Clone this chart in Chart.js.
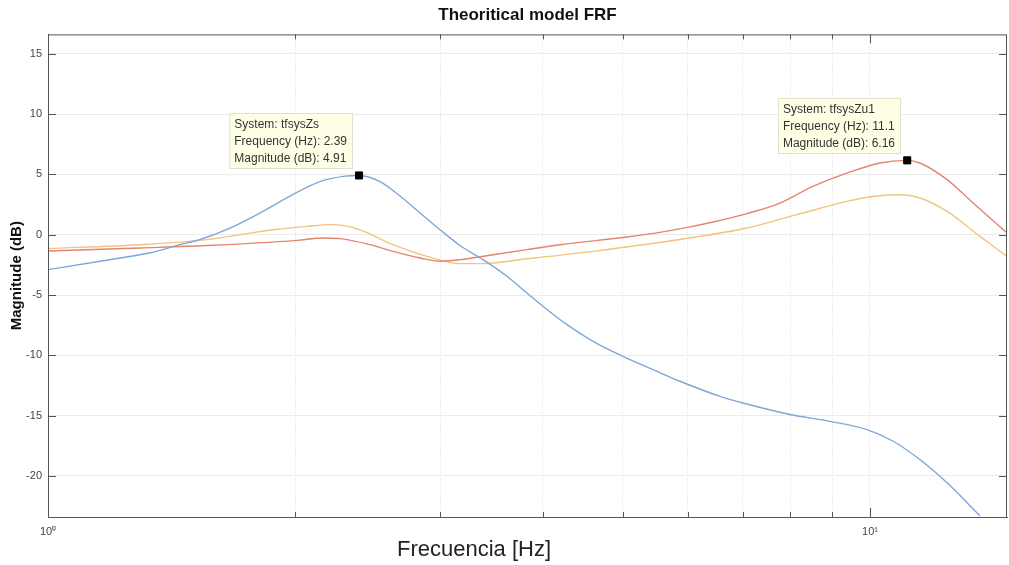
<!DOCTYPE html>
<html>
<head>
<meta charset="utf-8">
<script src="https://cdn.jsdelivr.net/npm/chart.js@4"></script>
<style>
  html, body { margin: 0; padding: 0; background: #fff; }
  #wrap { width: 1009px; height: 565px; }
</style>
</head>
<body>
<div id="wrap"><canvas id="frf"></canvas></div>
<script>
// values (frequency in Hz, magnitude in dB)
const freqZs = [1.000, 1.157, 1.331, 1.447, 1.531, 1.665, 1.811, 1.970, 2.142, 2.298, 2.39, 2.535, 2.681, 2.836, 2.999, 3.172, 3.382, 3.617, 3.825, 4.046, 4.279, 4.603, 5.006, 5.445, 5.873, 6.570, 7.006, 7.992, 8.940, 9.917, 10.66, 11.50, 12.41, 13.61];
const magZs = [-2.9, -2.2, -1.5, -0.83, -0.4, 0.55, 1.8, 3.2, 4.4, 4.85, 4.91, 4.4, 3.2, 1.8, 0.41, -0.9, -2.07, -3.45, -4.83, -6.2, -7.46, -8.84, -10.08, -11.18, -12.15, -13.4, -13.95, -14.9, -15.47, -16.16, -17.1, -18.64, -20.57, -23.3];

const freqZu1 = [1.000, 1.294, 1.561, 2.009, 2.160, 2.266, 2.465, 2.629, 2.836, 2.999, 3.172, 3.479, 3.825, 4.197, 5.064, 5.553, 6.039, 6.442, 7.085, 7.772, 8.524, 9.377, 10.28, 11.1, 11.5, 12.41, 13.35, 14.68];
const magZu1 = [-1.35, -1.1, -0.9, -0.47, -0.27, -0.33, -0.83, -1.38, -1.93, -2.2, -2.07, -1.66, -1.24, -0.83, -0.19, 0.19, 0.65, 1.05, 1.75, 2.62, 4.0, 5.1, 5.94, 6.16, 5.94, 4.56, 2.62, 0.14];

const freqZu2 = [1.000, 1.294, 1.561, 1.878, 2.066, 2.203, 2.285, 2.397, 2.629, 2.892, 3.172, 3.36, 3.825, 4.603, 5.873, 7.085, 8.150, 9.377, 10.08, 10.79, 11.5, 12.41, 13.61, 14.68];
const magZu2 = [-1.15, -0.83, -0.41, 0.41, 0.69, 0.83, 0.77, 0.4, -0.83, -1.8, -2.4, -2.4, -2.0, -1.38, -0.4, 0.55, 1.66, 2.76, 3.17, 3.31, 3.04, 1.93, -0.14, -1.8];

// data tips
const tipSystem = ['tfsysZs', 'tfsysZu1'];
const tipFreq = [2.39, 11.1];
const tipMag = [4.91, 6.16];

const yTicks = [-20, -15, -10, -5, 0, 5, 10, 15];
const xTicks = [1, 2, 3, 4, 5, 6, 7, 8, 9, 10];
const xLabels = { 1: '10\u2070', 10: '10\u00b9' };

const FONT = '"Liberation Sans", Arial, sans-serif';
const pts = (xs, ys) => xs.map((x, i) => ({ x: x, y: ys[i] }));

// frame + inward ticks like the MATLAB axes box
const boxPlugin = {
  id: 'box',
  afterDatasetsDraw(chart) {
    const { ctx, chartArea: a, scales: { x, y } } = chart;
    ctx.save();
    ctx.strokeStyle = '#555';
    ctx.lineWidth = 1;
    ctx.beginPath();
    yTicks.forEach(v => {
      const py = Math.round(y.getPixelForValue(v)) + 0.5;
      ctx.moveTo(a.left, py); ctx.lineTo(a.left + 8, py);
      ctx.moveTo(a.right, py); ctx.lineTo(a.right - 8, py);
    });
    xTicks.forEach(v => {
      const px = Math.round(x.getPixelForValue(v)) + 0.5;
      const len = (v === 1 || v === 10) ? 9 : 5;
      ctx.moveTo(px, a.bottom); ctx.lineTo(px, a.bottom - len);
      ctx.moveTo(px, a.top); ctx.lineTo(px, a.top + len);
    });
    ctx.stroke();
    ctx.strokeRect(a.left + 0.5, a.top + 0.5, a.right - a.left - 1, a.bottom - a.top);
    ctx.restore();
  }
};

// data tip boxes next to the black markers
const tipPlugin = {
  id: 'tips',
  afterDraw(chart) {
    const { ctx } = chart;
    const meta = chart.getDatasetMeta(3);
    ctx.save();
    ctx.font = '12px ' + FONT;
    meta.data.forEach((pt, i) => {
      const lines = [
        'System: ' + tipSystem[i],
        'Frequency (Hz): ' + tipFreq[i],
        'Magnitude (dB): ' + tipMag[i]
      ];
      const w = Math.max(...lines.map(l => ctx.measureText(l).width)) + 10;
      const h = 55;
      const rx = Math.round(pt.x) - 7, by = Math.round(pt.y) - 7;
      ctx.fillStyle = 'rgba(255,255,228,0.92)';
      ctx.fillRect(rx - w, by - h, w, h);
      ctx.strokeStyle = '#e0e0d0';
      ctx.lineWidth = 1;
      ctx.strokeRect(rx - w + 0.5, by - h + 0.5, w, h);
      ctx.fillStyle = '#333';
      ctx.textBaseline = 'middle';
      lines.forEach((l, k) => ctx.fillText(l, rx - w + 5, by - h + 12 + k * 17));
    });
    ctx.restore();
  }
};

const xTitlePlugin = {
  id: 'xTitle',
  afterDraw(chart) {
    const { ctx } = chart;
    ctx.save();
    ctx.font = '22px ' + FONT;
    ctx.fillStyle = '#222';
    ctx.textAlign = 'center';
    ctx.textBaseline = 'middle';
    ctx.fillText('Frecuencia [Hz]', 474, 550);
    ctx.restore();
  }
};

new Chart(document.getElementById('frf'), {
  type: 'line',
  data: {
    datasets: [
      { label: 'tfsysZs', data: pts(freqZs, magZs), borderColor: '#7ea7d8', borderWidth: 1.4 },
      { label: 'tfsysZu1', data: pts(freqZu1, magZu1), borderColor: '#e5846f', borderWidth: 1.4 },
      { label: 'tfsysZu2', data: pts(freqZu2, magZu2), borderColor: '#f3c47c', borderWidth: 1.4 },
      {
        label: 'datatips', data: pts(tipFreq, tipMag), showLine: false, order: -1,
        pointStyle: 'rect', pointRadius: 5, pointBorderWidth: 1,
        pointBackgroundColor: '#000', pointBorderColor: '#000'
      }
    ]
  },
  options: {
    responsive: true,
    maintainAspectRatio: false,
    animation: false,
    events: [],
    layout: { autoPadding: false, padding: { left: 0, right: 2, top: 0, bottom: 0 } },
    elements: {
      point: { radius: 0 },
      line: { cubicInterpolationMode: 'monotone', fill: false }
    },
    plugins: {
      legend: { display: false },
      tooltip: { enabled: false },
      title: {
        display: true,
        fullSize: false,
        text: 'Theoritical model FRF',
        color: '#111',
        font: { family: FONT, size: 17, weight: 'bold' },
        padding: { top: 5, bottom: 9 }
      }
    },
    scales: {
      x: {
        type: 'logarithmic',
        min: 1,
        max: 14.68,
        afterBuildTicks: s => { s.ticks = xTicks.map(v => ({ value: v })); },
        afterFit: s => { s.height = 48; s.paddingLeft = 0; s.paddingRight = 0; },
        grid: { color: '#dcdcdc', drawTicks: false, lineWidth: 1 },
        border: { display: true, color: '#555', dash: [1, 2] },
        ticks: {
          autoSkip: false, maxRotation: 0, padding: 8, color: '#444',
          font: { family: FONT, size: 11 },
          callback: v => xLabels[v] || ''
        }
      },
      y: {
        min: -23.4,
        max: 16.6,
        afterBuildTicks: s => { s.ticks = yTicks.map(v => ({ value: v })); },
        afterFit: s => { s.width = 48; },
        grid: { color: '#ebebeb', drawTicks: false, lineWidth: 1 },
        border: { display: true, color: '#555' },
        ticks: {
          padding: 6, color: '#444',
          font: { family: FONT, size: 11 }
        },
        title: {
          display: true,
          text: 'Magnitude (dB)',
          color: '#111',
          font: { family: FONT, size: 15, weight: 'bold' },
          padding: { top: 8, bottom: 0 }
        }
      }
    }
  },
  plugins: [boxPlugin, tipPlugin, xTitlePlugin]
});
</script>
</body>
</html>
